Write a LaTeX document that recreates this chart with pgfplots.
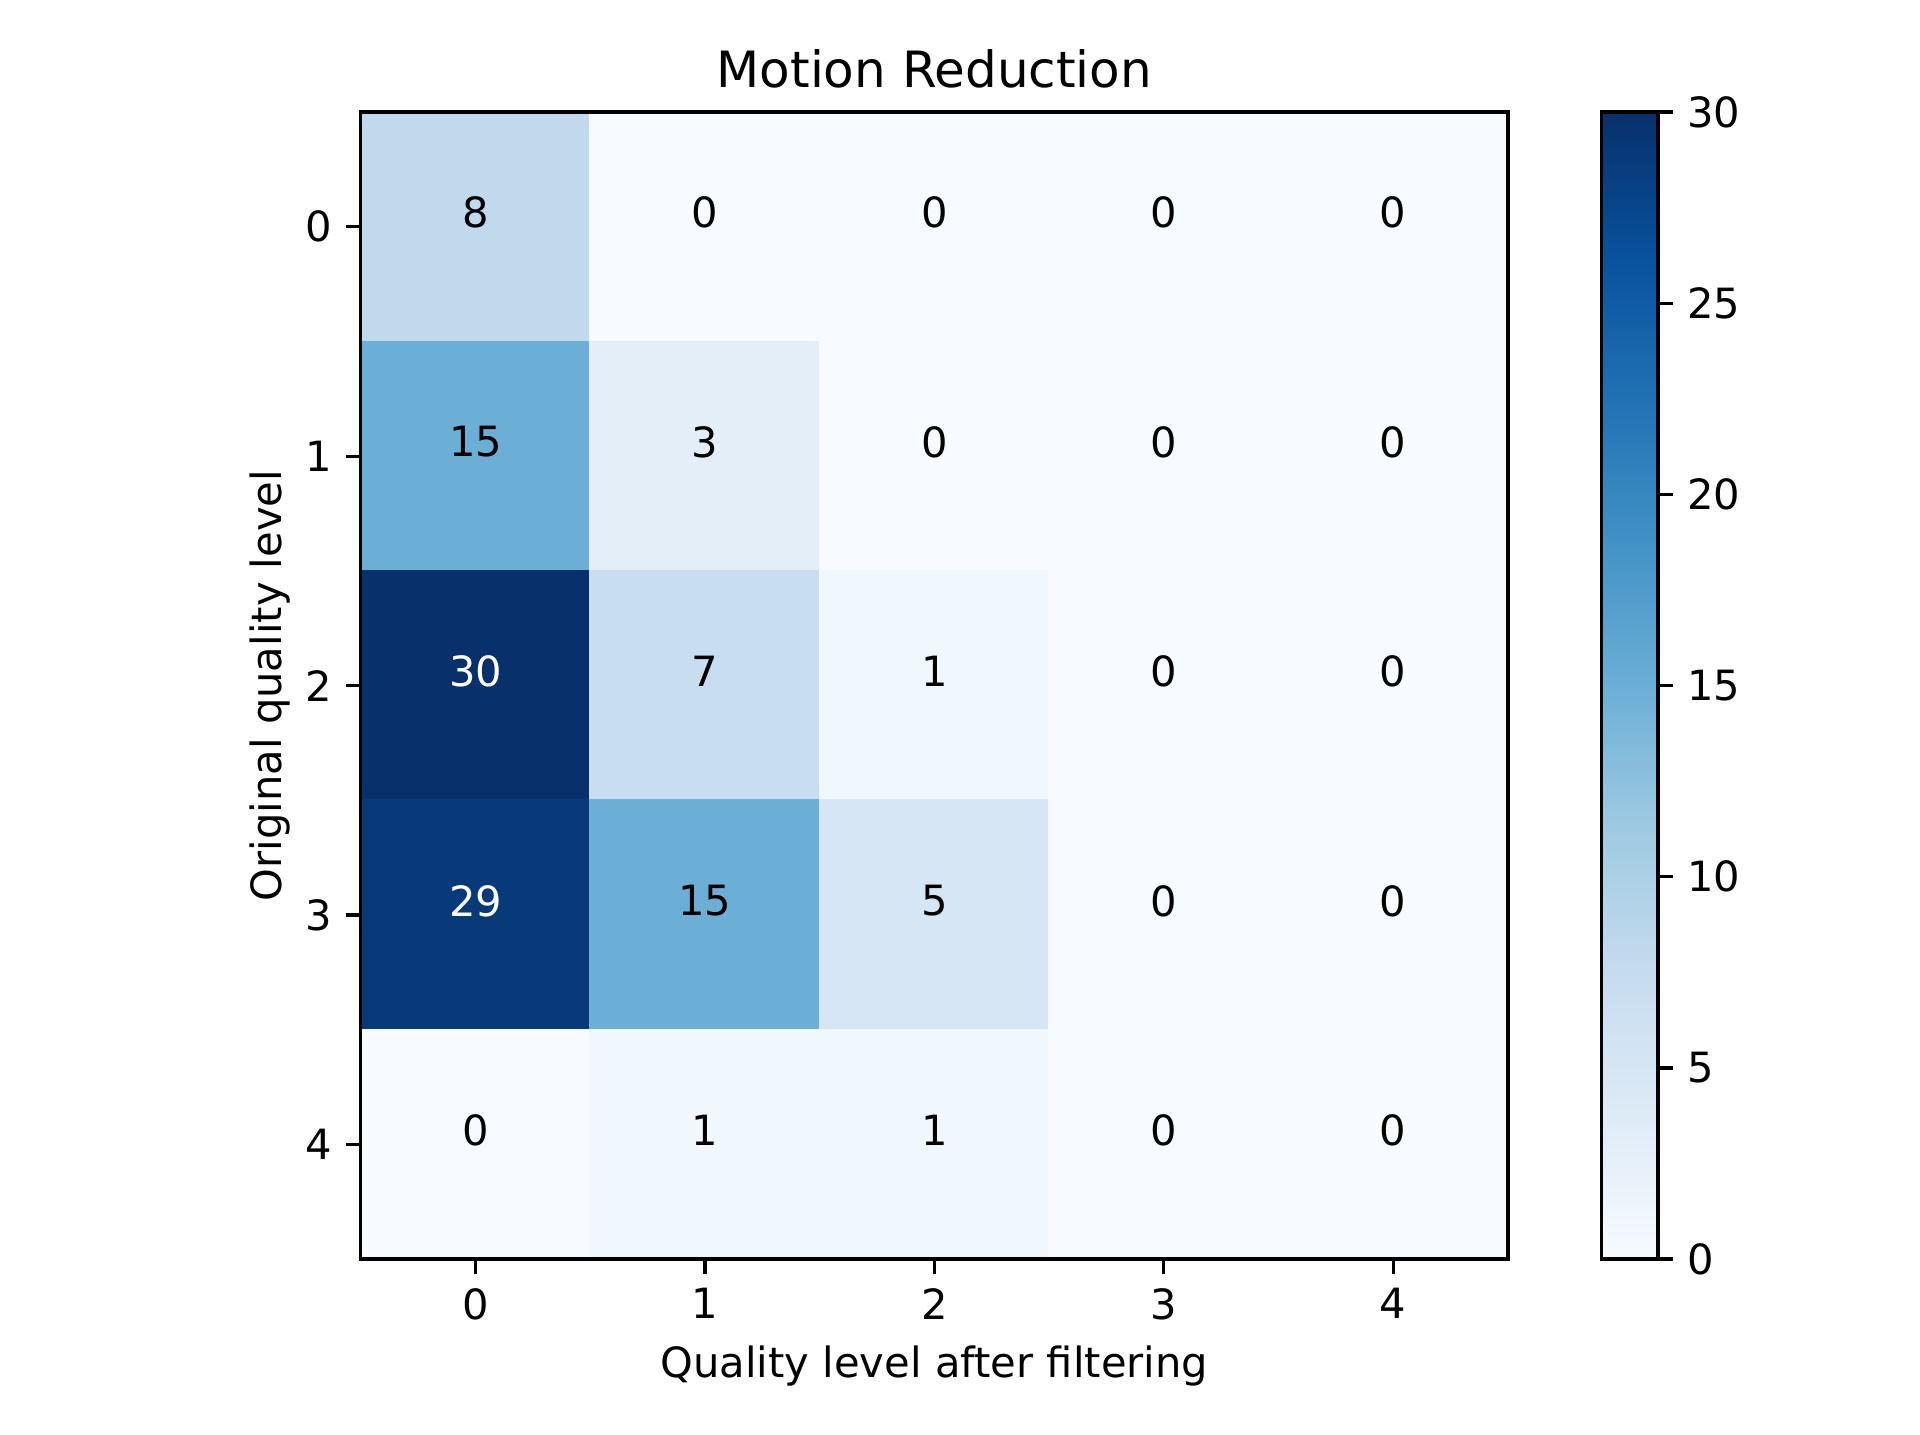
\documentclass[border=0pt]{standalone}
\usepackage{fontspec}
\setmainfont{DejaVu Sans}
\usepackage{pgfplots}
\usepackage{pgfplotstable}
\pgfplotsset{compat=1.18}

\pgfplotsset{
  colormap={Blues}{rgb255=(247,251,255) rgb255=(222,235,247) rgb255=(198,219,239)
    rgb255=(158,202,225) rgb255=(107,174,214) rgb255=(66,146,198)
    rgb255=(33,113,181) rgb255=(8,81,156) rgb255=(8,48,107)},
  /pgf/number format/assume math mode=true,
}

% x = quality after filtering, y = original quality, c = count
\pgfplotstableread{
x y c
0 0 8
1 0 0
2 0 0
3 0 0
4 0 0
0 1 15
1 1 3
2 1 0
3 1 0
4 1 0
0 2 30
1 2 7
2 2 1
3 2 0
4 2 0
0 3 29
1 3 15
2 3 5
3 3 0
4 3 0
0 4 0
1 4 1
2 4 1
3 4 0
4 4 0
}\counts

\pgfplotstableread{
x y c
0 0 8
1 0 0
2 0 0
3 0 0
4 0 0
0 1 15
1 1 3
2 1 0
3 1 0
4 1 0
1 2 7
2 2 1
3 2 0
4 2 0
1 3 15
2 3 5
3 3 0
4 3 0
0 4 0
1 4 1
2 4 1
3 4 0
4 4 0
}\darklabels

\pgfplotstableread{
x y c
0 2 30
0 3 29
}\lightlabels

\begin{document}
\begin{tikzpicture}
\useasboundingbox (-86.6pt,-42pt) rectangle (374.2pt,302.2pt);
\begin{axis}[
  scale only axis,
  width=275.3pt, height=275.3pt,
  xmin=-0.5, xmax=4.5, ymin=-0.5, ymax=4.5,
  y dir=reverse,
  enlargelimits=false,
  axis on top,
  axis line style={line width=0.8pt},
  xtick={0,...,4}, ytick={0,...,4},
  tick align=outside,
  major tick length=3.5pt,
  every tick/.style={line width=0.8pt, black},
  xtick pos=bottom, ytick pos=left,
  tick label style={font=\fontsize{10}{12}\selectfont},
  every axis title/.style={at={(axis description cs:0.5,1)}, anchor=base, yshift=6pt, font=\fontsize{12}{14}\selectfont},
  every axis x label/.style={at={(axis description cs:0.5,-0.103)}, anchor=base, font=\fontsize{10}{12}\selectfont},
  every axis y label/.style={at={(axis description cs:-0.069,0.5)}, rotate=90, anchor=base, font=\fontsize{10}{12}\selectfont},
  title={Motion Reduction},
  xlabel={Quality level after filtering},
  ylabel={Original quality level},
  colormap name=Blues,
  point meta min=0, point meta max=30,
  colorbar,
  colorbar style={
    at={(parent axis.right of north east)}, anchor=north west,
    xshift=13.5pt,
    width=13.6pt, height=275.3pt,
    scale only axis,
    ytick={0,5,...,30},
    ytick pos=right, yticklabel pos=right,
    tick align=outside,
    major tick length=3.5pt,
    axis line style={line width=0.8pt},
    every tick/.style={line width=0.8pt, black},
    tick label style={font=\fontsize{10}{12}\selectfont},
  },
]
\addplot[matrix plot*, mesh/cols=5, point meta=explicit] table[x=x, y=y, meta=c] {\counts};
\addplot[only marks, mark=none, point meta=explicit symbolic,
  nodes near coords, nodes near coords align=center,
  every node near coord/.style={text=black, yshift=3.4pt, font=\fontsize{10}{12}\selectfont}]
  table[x=x, y=y, meta=c] {\darklabels};
\addplot[only marks, mark=none, point meta=explicit symbolic,
  nodes near coords, nodes near coords align=center,
  every node near coord/.style={text=white, yshift=3.4pt, font=\fontsize{10}{12}\selectfont}]
  table[x=x, y=y, meta=c] {\lightlabels};
\end{axis}
\end{tikzpicture}
\end{document}
